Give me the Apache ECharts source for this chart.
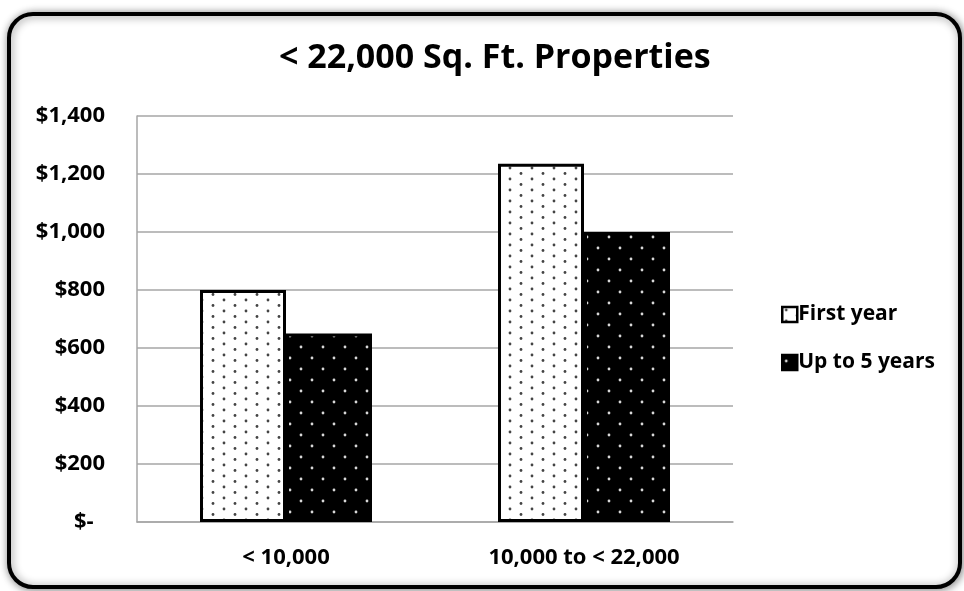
<!DOCTYPE html>
<html>
<head>
<meta charset="utf-8">
<script src="https://cdn.jsdelivr.net/npm/echarts@6/dist/echarts.min.js"></script>
<style>
  html, body { margin: 0; padding: 0; background: #fff; }
  #chart { width: 964px; height: 591px; }
</style>
</head>
<body>
<div id="chart"></div>
<script>
// data
const categories = ['< 10,000', '10,000 to < 22,000'];
const firstYear = [800, 1235];
const upToFive = [650, 1000];
const seriesNames = ['First year', 'Up to 5 years'];
const yTicks = [0, 200, 400, 600, 800, 1000, 1200, 1400];

const FONT = 'Open Sans';

// dotted fill patterns (excel-like)
function makePattern(bg, dot, w, h, dots) {
    const c = document.createElement('canvas');
    c.width = w; c.height = h;
    const ctx = c.getContext('2d');
    ctx.fillStyle = bg;
    ctx.fillRect(0, 0, w, h);
    ctx.fillStyle = dot;
    dots.forEach(p => {
        ctx.beginPath();
        ctx.arc(p[0], p[1], 1.4, 0, Math.PI * 2);
        ctx.fill();
    });
    return { image: c, repeat: 'repeat' };
}
const lightPat = makePattern('#ffffff', '#444444', 22, 11, [[4, 3], [15, 8.5]]);
const darkPat = makePattern('#000000', '#d8d8d8', 22, 22, [[4, 6], [15, 17]]);

function fmtMoney(v) {
    if (v === 0) return '$-  ';
    return '$' + v.toLocaleString('en-US');
}

const chart = echarts.init(document.getElementById('chart'));
chart.setOption({
    animation: false,
    backgroundColor: '#ffffff',
    graphic: [{
        type: 'rect',
        z: -10,
        silent: true,
        shape: { x: 9, y: 14, width: 951, height: 573, r: 24 },
        style: {
            fill: '#ffffff',
            stroke: '#000000',
            lineWidth: 4,
            shadowBlur: 8,
            shadowColor: 'rgba(0,0,0,0.45)',
            shadowOffsetX: 1,
            shadowOffsetY: 1
        }
    }],
    title: {
        text: '< 22,000 Sq. Ft. Properties',
        left: 274,
        top: 36,
        textStyle: { fontFamily: FONT, fontWeight: 'bold', fontSize: 34, color: '#000' }
    },
    legend: {
        orient: 'vertical',
        left: 776,
        top: 299,
        itemWidth: 15,
        itemHeight: 15,
        itemGap: 27,
        icon: 'rect',
        data: seriesNames,
        itemStyle: { borderColor: '#000', borderWidth: 2.5 },
        textStyle: { fontFamily: FONT, fontWeight: 'bold', fontSize: 21, color: '#000', padding: [0, 0, 0, -4] }
    },
    grid: { left: 137, right: 231, top: 116, bottom: 69 },
    xAxis: {
        type: 'category',
        data: categories,
        axisLine: { show: true, lineStyle: { color: '#a6a6a6', width: 1.5 } },
        axisTick: { show: false },
        axisLabel: { fontFamily: FONT, fontWeight: 'bold', fontSize: 22, color: '#000', margin: 25 }
    },
    yAxis: {
        type: 'value',
        min: 0,
        max: 1400,
        interval: 200,
        axisLine: { show: true, lineStyle: { color: '#a6a6a6', width: 1.5 } },
        axisTick: { show: false },
        splitLine: { lineStyle: { color: '#a6a6a6', width: 1.5 } },
        axisLabel: {
            fontFamily: FONT, fontWeight: 'bold', fontSize: 22, color: '#000', margin: 32,
            formatter: v => yTicks.includes(v) ? fmtMoney(v) : ''
        }
    },
    series: [
        {
            name: seriesNames[0],
            type: 'bar',
            data: firstYear,
            barWidth: 86,
            barGap: '0%',
            itemStyle: { color: lightPat, borderColor: '#000', borderWidth: 3 }
        },
        {
            name: seriesNames[1],
            type: 'bar',
            data: upToFive,
            barWidth: 86,
            itemStyle: { color: darkPat, borderColor: '#000', borderWidth: 3 }
        }
    ]
});
</script>
</body>
</html>
